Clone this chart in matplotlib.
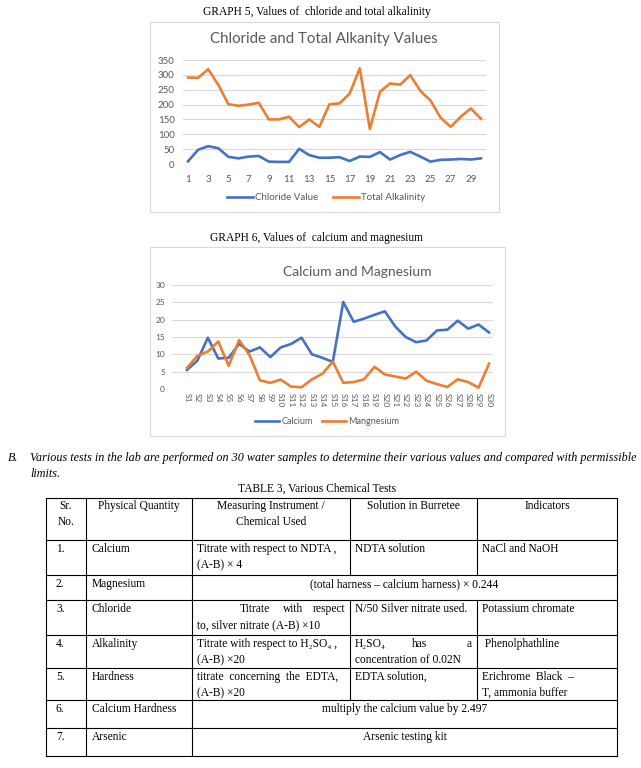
import matplotlib
matplotlib.use("Agg")
import matplotlib.pyplot as plt
from matplotlib.patches import Rectangle

W, H = 641, 768

# ----- data -----
samples = list(range(1, 31))
chloride = [9, 48, 60, 53, 24, 19, 25, 27, 8, 7, 7, 51, 30, 21, 21, 23, 10, 25, 24, 40,
            15, 30, 41, 25, 8, 14, 15, 17, 15, 19]
alkalinity = [291, 290, 319, 266, 201, 196, 200, 206, 150, 150, 159, 124, 150, 125, 201, 204,
              237, 322, 118, 243, 271, 267, 299, 246, 214, 156, 125, 159, 187, 152]

sample_labels = ["S%d" % i for i in samples]
calcium = [5.5, 8.2, 14.8, 8.8, 9.0, 13.0, 10.8, 12.0, 9.2, 12.0, 13.0, 14.8, 10.0, 9.0, 7.8,
           25.1, 19.4, 20.3, 21.4, 22.4, 18.0, 15.0, 13.5, 14.0, 16.9, 17.1, 19.7, 17.4, 18.6, 16.3]
magnesium = [6.1, 9.6, 10.8, 13.7, 6.7, 14.1, 9.8, 2.5, 1.8, 2.7, 0.7, 0.5, 2.8, 4.4, 7.9,
             1.8, 2.0, 2.8, 6.4, 4.2, 3.6, 3.0, 5.0, 2.4, 1.4, 0.6, 2.8, 2.0, 0.4, 7.3]

# table text
col_x = [46, 86, 192, 350, 477, 617]
row_y = [498, 540, 575, 600, 635, 668, 700, 728, 756]
header = [["Sr.", "No."], ["Physical Quantity"], ["Measuring Instrument /", "Chemical Used"],
          ["Solution in Burretee"], ["Indicators"]]
sr_no = ["1.", "2.", "3.", "4.", "5.", "6.", "7."]
quantity = ["Calcium", "Magnesium", "Chloride", "Alkalinity", "Hardness", "Calcium Hardness", "Arsenic"]
merged = {1: "(total harness \u2013 calcium harness) \u00d7 0.244",
          5: "multiply the calcium value by 2.497",
          6: "Arsenic testing kit"}
instrument = {0: ["Titrate with respect to NDTA ,", "(A-B) \u00d7 4"],
              2: [None, "to, silver nitrate (A-B) \u00d710"],
              3: ["Titrate with respect to H\u2082SO\u2084 ,", "(A-B) \u00d720"],
              4: ["titrate  concerning  the  EDTA,", "(A-B) \u00d720"]}
solution = {0: ["NDTA solution"], 2: ["N/50 Silver nitrate used."],
            3: [None, "concentration of 0.02N"], 4: ["EDTA solution,"]}
indicators = {0: ["NaCl and NaOH"], 2: ["Potassium chromate"], 3: [" Phenolphathline"],
              4: ["Erichrome  Black  \u2013", "T, ammonia buffer"]}

SERIF = ["Liberation Serif", "DejaVu Serif"]
SANS = ["Lato", "DejaVu Sans"]
GREY = "#595959"
GRID = "#D9D9D9"
BLUE = "#4472C4"
ORANGE = "#ED7D31"
FS = 8.3  # body text size

fig = plt.figure(figsize=(W / 100, H / 100), dpi=100)
fig.patch.set_facecolor("white")

page = fig.add_axes([0, 0, 1, 1])
page.set_xlim(0, W)
page.set_ylim(H, 0)
page.axis("off")


def px_axes(l, t, r, b):
    return fig.add_axes([l / W, 1 - b / H, (r - l) / W, (b - t) / H])


def ptext(x, y, s, ha="left", size=FS, **kw):
    page.text(x, y, s, ha=ha, va="center", fontsize=size, family=SERIF, color="black", **kw)


# headings
ptext(317, 12, "GRAPH 5, Values of  chloride and total alkalinity", ha="center")
ptext(317, 238, "GRAPH 6, Values of  calcium and magnesium", ha="center")

# chart borders
page.add_patch(Rectangle((150, 22), 349, 190, fill=False, ec=GRID, lw=0.8))
page.add_patch(Rectangle((150, 247), 355, 189, fill=False, ec=GRID, lw=0.8))


def style(ax, tick_size):
    ax.set_facecolor("none")
    for s in ax.spines.values():
        s.set_visible(False)
    ax.yaxis.grid(True, color=GRID, lw=0.8)
    ax.set_axisbelow(True)
    ax.tick_params(length=0, labelsize=tick_size, labelcolor=GREY)
    for lab in ax.get_xticklabels() + ax.get_yticklabels():
        lab.set_family(SANS)


# ===== chart 1 =====
ax1 = px_axes(183, 60, 486, 164)
ax1.plot(samples, chloride, color=BLUE, lw=1.9, label="Chloride Value")
ax1.plot(samples, alkalinity, color=ORANGE, lw=1.9, label="Total Alkalinity")
ax1.set_xlim(0.5, 30.5)
ax1.set_ylim(0, 350)
ax1.set_yticks(range(0, 351, 50))
ax1.set_xticks(samples[::2])
ax1.tick_params(axis="y", pad=6)
ax1.tick_params(axis="x", pad=8)
style(ax1, 7)
fig.text(324 / W, 1 - 39 / H, "Chloride and Total Alkanity Values", ha="center", va="center",
         fontsize=10.8, color=GREY, family=SANS)
ax1.legend(loc="center", bbox_to_anchor=(326 / W, 1 - 198 / H), bbox_transform=fig.transFigure,
           ncol=2, frameon=False, handlelength=2.7, handletextpad=0.2, columnspacing=1.5,
           prop={"family": SANS, "size": 7}, labelcolor=GREY)

# ===== chart 2 =====
ax2 = px_axes(172, 285, 493, 389)
ax2.plot(samples, calcium, color=BLUE, lw=1.9, label="Calcium")
ax2.plot(samples, magnesium, color=ORANGE, lw=1.9, label="Mangnesium")
ax2.set_xlim(-0.44, 30.38)
ax2.set_ylim(0, 30)
ax2.set_yticks(range(0, 31, 5))
ax2.set_xticks(samples)
ax2.set_xticklabels(sample_labels, rotation=-90, va="top", ha="center")
ax2.tick_params(axis="y", pad=5)
ax2.tick_params(axis="x", pad=3)
style(ax2, 6)
fig.text(357 / W, 1 - 272 / H, "Calcium and Magnesium", ha="center", va="center",
         fontsize=10, color=GREY, family=SANS)
ax2.legend(loc="center", bbox_to_anchor=(327 / W, 1 - 422 / H), bbox_transform=fig.transFigure,
           ncol=2, frameon=False, handlelength=2.7, handletextpad=0.2, columnspacing=1.0,
           prop={"family": SANS, "size": 6.5}, labelcolor=GREY)

# ===== paragraph =====
ptext(8, 458, "B.", style="italic", size=8.7)
ptext(30, 458, "Various tests in the lab are performed on 30 water samples to determine their various "
      "values and compared with permissible", style="italic", size=8.7)
ptext(30, 474, "limits.", style="italic", size=8.7)
ptext(317, 489, "TABLE 3, Various Chemical Tests", ha="center")

# ===== table =====
lk = dict(color="black", lw=0.8)
for y in row_y:
    page.plot([col_x[0], col_x[-1]], [y, y], **lk)
for x in (col_x[0], col_x[1], col_x[2], col_x[-1]):
    page.plot([x, x], [row_y[0], row_y[-1]], **lk)
for i in range(len(row_y) - 1):
    if (i - 1) in merged:
        continue
    for x in (col_x[3], col_x[4]):
        page.plot([x, x], [row_y[i], row_y[i + 1]], **lk)

# header
for c, lines in enumerate(header):
    cx = (col_x[c] + col_x[c + 1]) / 2
    for k, s in enumerate(lines):
        ptext(cx, row_y[0] + 8 + 16 * k, s, ha="center")

for r in range(7):
    top = row_y[r + 1]
    y0 = top + 9
    ptext(col_x[0] + 10, y0, sr_no[r])
    ptext(col_x[1] + 6, y0, quantity[r])
    if r in merged:
        ptext((col_x[2] + col_x[-1]) / 2, y0, merged[r], ha="center")
        continue
    for col, d in ((2, instrument), (3, solution), (4, indicators)):
        for k, s in enumerate(d.get(r, [])):
            if s:
                ptext(col_x[col] + 5, y0 + 16 * k, s)

# justified first lines
ptext(240, row_y[3] + 9, "Titrate")
ptext(293, row_y[3] + 9, "with", ha="center")
ptext(345, row_y[3] + 9, "respect", ha="right")
ptext(col_x[3] + 5, row_y[4] + 9, "H\u2082SO\u2084")
ptext(420, row_y[4] + 9, "has", ha="center")
ptext(col_x[4] - 5, row_y[4] + 9, "a", ha="right")

fig.savefig("out.png", dpi=100)
